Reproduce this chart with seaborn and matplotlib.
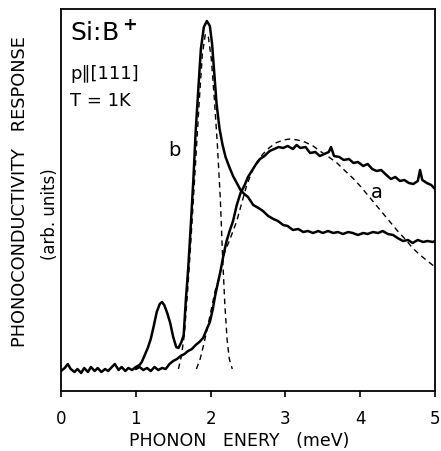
import matplotlib
matplotlib.use("Agg")
import matplotlib.pyplot as plt
import numpy as np
import pandas as pd
import seaborn as sns

# 曲线数据 (x: 声子能量 meV, y: 任意单位)
B_SOLID = [
    (0.00, 20), (0.05, 23), (0.09, 27), (0.13, 22), (0.18, 19), (0.22, 22),
    (0.27, 18), (0.31, 23), (0.36, 19), (0.40, 24), (0.45, 20), (0.49, 23),
    (0.54, 19), (0.59, 22), (0.63, 20), (0.68, 24), (0.72, 27), (0.77, 21),
    (0.81, 24), (0.86, 20), (0.90, 23), (0.95, 21), (1.00, 24), (1.05, 26),
    (1.08, 29), (1.12, 36), (1.16, 43), (1.20, 52), (1.24, 65), (1.28, 79),
    (1.32, 87), (1.35, 89), (1.38, 86), (1.42, 78), (1.46, 68), (1.50, 54),
    (1.54, 44), (1.57, 43), (1.61, 49), (1.64, 56), (1.67, 92), (1.70, 122),
    (1.73, 159), (1.77, 212), (1.80, 259), (1.84, 307), (1.87, 342), (1.91, 364),
    (1.95, 370), (1.99, 365), (2.02, 347), (2.05, 317), (2.08, 287), (2.12, 262),
    (2.16, 246), (2.20, 234), (2.25, 224), (2.30, 215), (2.35, 208), (2.40, 201),
    (2.45, 197), (2.50, 194), (2.57, 186), (2.64, 183), (2.70, 180), (2.77, 175),
    (2.84, 172), (2.90, 170), (2.97, 166), (3.03, 165), (3.10, 161), (3.17, 162),
    (3.24, 159), (3.30, 160), (3.37, 158), (3.44, 160), (3.50, 158), (3.57, 160),
    (3.64, 158), (3.70, 159), (3.77, 157), (3.84, 159), (3.90, 158), (3.97, 156),
    (4.04, 158), (4.10, 157), (4.17, 159), (4.24, 158), (4.30, 160), (4.37, 157),
    (4.44, 156), (4.50, 153), (4.57, 150), (4.64, 151), (4.70, 148), (4.77, 151),
    (4.84, 149), (4.90, 150), (4.97, 149), (5.00, 150),
]

A_SOLID = [
    (1.00, 22), (1.05, 24), (1.10, 21), (1.15, 23), (1.20, 20), (1.25, 24),
    (1.30, 21), (1.35, 23), (1.40, 22), (1.45, 27), (1.50, 30), (1.55, 32),
    (1.60, 35), (1.65, 37), (1.70, 40), (1.75, 42), (1.80, 46), (1.85, 49),
    (1.90, 53), (1.95, 62), (1.99, 69), (2.03, 82), (2.06, 95), (2.10, 109),
    (2.13, 119), (2.17, 135), (2.21, 149), (2.25, 159), (2.30, 170), (2.35, 186),
    (2.40, 198), (2.45, 205), (2.50, 214), (2.55, 220), (2.60, 226), (2.66, 232),
    (2.72, 235), (2.79, 240), (2.85, 242), (2.91, 244), (2.97, 243), (3.03, 245),
    (3.10, 242), (3.15, 246), (3.20, 243), (3.27, 244), (3.33, 238), (3.40, 239),
    (3.46, 235), (3.52, 237), (3.58, 239), (3.61, 244), (3.65, 235), (3.72, 234),
    (3.78, 231), (3.85, 232), (3.91, 228), (3.97, 229), (4.04, 225), (4.10, 227),
    (4.16, 222), (4.22, 220), (4.28, 221), (4.35, 216), (4.41, 212), (4.47, 214),
    (4.53, 210), (4.59, 211), (4.65, 208), (4.71, 207), (4.77, 210), (4.80, 221),
    (4.83, 211), (4.89, 208), (4.95, 206), (5.00, 202),
]

B_FIT = [
    (1.57, 22), (1.61, 35), (1.65, 57), (1.69, 97), (1.73, 142), (1.77, 192),
    (1.81, 242), (1.85, 292), (1.89, 337), (1.93, 357), (1.97, 354), (2.01, 332),
    (2.05, 292), (2.09, 247), (2.13, 192), (2.16, 135), (2.19, 87), (2.22, 52),
    (2.25, 32), (2.29, 22),
]

A_FIT = [
    (1.81, 22), (1.86, 32), (1.91, 47), (1.96, 64), (2.01, 82), (2.06, 100),
    (2.11, 112), (2.16, 129), (2.19, 139), (2.27, 154), (2.35, 170), (2.42, 189),
    (2.48, 205), (2.55, 219), (2.62, 229), (2.70, 237), (2.78, 243), (2.87, 248),
    (2.97, 251), (3.06, 252), (3.16, 251), (3.26, 249), (3.37, 245), (3.48, 239),
    (3.58, 234), (3.69, 228), (3.80, 220), (3.90, 213), (4.00, 205), (4.10, 196),
    (4.20, 187), (4.30, 178), (4.40, 169), (4.50, 160), (4.60, 152), (4.70, 143),
    (4.80, 136), (4.90, 130), (5.00, 124),
]

X_TICKS = [0, 1, 2, 3, 4, 5]

sns.set_theme(style="ticks")
plt.rcParams["font.family"] = ["DejaVu Sans"]
plt.rcParams["text.color"] = "black"
plt.rcParams["axes.labelcolor"] = "black"

fig = plt.figure(figsize=(4.41, 4.52), dpi=100)
ax = fig.add_axes([61 / 441, 1 - 392 / 452, (435 - 61) / 441, (392 - 10) / 452])

dash = (0, (4, 3))
for data, ls, lw in [(B_SOLID, "-", 1.8), (A_SOLID, "-", 1.8),
                     (B_FIT, dash, 1.0), (A_FIT, dash, 1.0)]:
    df = pd.DataFrame(data, columns=["x", "y"])
    sns.lineplot(data=df, x="x", y="y", ax=ax, color="black", linewidth=lw,
                 estimator=None, sort=False)
    ax.lines[-1].set_linestyle(ls)

ax.set_xlim(0, 5)
ax.set_ylim(0, 382)
ax.set_xticks(X_TICKS)
ax.set_yticks([])
ax.tick_params(axis="x", direction="out", length=4, width=1.2, pad=9,
               labelsize=12, colors="black")
for sp in ax.spines.values():
    sp.set_visible(True)
    sp.set_color("black")
    sp.set_linewidth(1.3)
ax.set_xlabel("")
ax.set_ylabel("")

# 曲线标记
ax.text(1.52, 242, "b", fontsize=14, ha="center", va="center")
ax.text(4.22, 199, "a", fontsize=14, ha="center", va="center")

# 左上角说明文字
ax.text(0.025, 0.975, "Si:B$^{\\bf +}$", transform=ax.transAxes, fontsize=18,
        ha="left", va="top")
ax.text(0.025, 0.855, "p\u2225[111]", transform=ax.transAxes, fontsize=13,
        ha="left", va="top")
ax.text(0.025, 0.785, "T = 1K", transform=ax.transAxes, fontsize=13,
        ha="left", va="top")

# 坐标轴标题
fig.text(239 / 441, 1 - 441 / 452, "PHONON   ENERY   (meV)", fontsize=12.5,
         ha="center", va="center")
fig.text(20 / 441, 1 - 192 / 452, "PHONOCONDUCTIVITY   RESPONSE", fontsize=12.8,
         rotation=90, ha="center", va="center")
fig.text(50 / 441, 1 - 214 / 452, "(arb. units)", fontsize=12,
         rotation=90, ha="center", va="center")

fig.savefig("out.png", dpi=100, facecolor="white")
